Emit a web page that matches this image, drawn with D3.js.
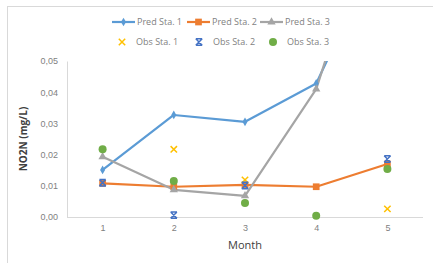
<!DOCTYPE html>
<html>
<head>
<meta charset="utf-8">
<script src="https://cdn.jsdelivr.net/npm/d3@7"></script>
<style>
  body { margin: 0; background: #fff; }
  svg { font-family: "Open Sans", "Liberation Sans", sans-serif; }
</style>
</head>
<body>
<svg id="chart"></svg>
<script>
var months = ["1", "2", "3", "4", "5"];
var yTicks = [0, 0.01, 0.02, 0.03, 0.04, 0.05];

// predicted series (lines)
var predSta1 = [0.0151, 0.0327, 0.0305, 0.0428, 0.091];
var predSta2 = [0.0108, 0.0097, 0.0103, 0.0097, 0.017];
var predSta3 = [0.0193, 0.0087, 0.0068, 0.041, 0.112];

// observed series (markers only), null = no observation
var obsSta1 = [null, 0.0217, 0.0119, null, 0.0026];
var obsSta2 = [0.011, 0.0006, 0.0101, null, 0.0186];
var obsSta3 = [0.0217, 0.0115, 0.0045, 0.0004, 0.0154];

var width = 433, height = 263;
var plotLeft = 67, plotRight = 423, plotTop = 61, plotBottom = 217;

var svg = d3.select("#chart").attr("width", width).attr("height", height);

// chart border
svg.append("rect")
    .attr("x", 7.5).attr("y", 6.5)
    .attr("width", 500).attr("height", 300)
    .attr("fill", "none").attr("stroke", "#d9d9d9");

var x = d3.scalePoint().domain(months).range([plotLeft, plotRight]).padding(0.5);
var y = d3.scaleLinear().domain([0, 0.05]).range([plotBottom, plotTop]);

// y axis
var yAxis = svg.append("g")
    .attr("transform", "translate(" + plotLeft + ",0)")
    .call(d3.axisLeft(y).tickValues(yTicks).tickSize(0).tickPadding(9)
        .tickFormat(function (d) { return d3.format(".2f")(d).replace(".", ","); }));
yAxis.select(".domain").attr("stroke", "#d9d9d9");
yAxis.selectAll("text").attr("fill", "#7f7f7f").style("font-size", "9px");

// x axis
var xAxis = svg.append("g")
    .attr("transform", "translate(0," + plotBottom + ")")
    .call(d3.axisBottom(x).tickSize(0).tickPadding(8));
xAxis.select(".domain").attr("stroke", "#d9d9d9").attr("d", "M" + plotLeft + ",0.5H" + plotRight);
xAxis.selectAll("text").attr("fill", "#7f7f7f").style("font-size", "9px");

// axis titles
svg.append("text")
    .attr("transform", "translate(27," + ((plotTop + plotBottom) / 2) + ") rotate(-90)")
    .attr("text-anchor", "middle")
    .attr("fill", "#404040")
    .style("font-size", "10px").style("font-weight", "bold")
    .text("NO2N (mg/L)");

svg.append("text")
    .attr("x", 245).attr("y", 249)
    .attr("text-anchor", "middle")
    .attr("fill", "#404040")
    .style("font-size", "11px")
    .text("Month");

svg.append("clipPath").attr("id", "plot-clip")
    .append("rect").attr("x", 0).attr("y", plotTop).attr("width", width).attr("height", height - plotTop);

var plot = svg.append("g").attr("clip-path", "url(#plot-clip)");

var line = d3.line()
    .x(function (d, i) { return x(months[i]); })
    .y(function (d) { return y(d); });

var predSeries = [
    { name: "Pred Sta. 1", values: predSta1, color: "#5b9bd5", symbol: d3.symbolDiamond, size: 22 },
    { name: "Pred Sta. 2", values: predSta2, color: "#ed7d31", symbol: d3.symbolSquare, size: 45 },
    { name: "Pred Sta. 3", values: predSta3, color: "#a5a5a5", symbol: d3.symbolTriangle, size: 30 }
];

var obsSeries = [
    { name: "Obs Sta. 1", values: obsSta1, color: "#ffc000", kind: "x" },
    { name: "Obs Sta. 2", values: obsSta2, color: "#4472c4", kind: "star" },
    { name: "Obs Sta. 3", values: obsSta3, color: "#70ad47", kind: "dot" }
];

function drawObsMarker(g, kind, color, cx, cy) {
    if (kind === "dot") {
        g.append("circle").attr("cx", cx).attr("cy", cy).attr("r", 4).attr("fill", color);
    } else {
        var s = 3.2;
        var path = "M" + (cx - s) + "," + (cy - s) + "L" + (cx + s) + "," + (cy + s) +
            "M" + (cx + s) + "," + (cy - s) + "L" + (cx - s) + "," + (cy + s);
        if (kind === "star") {
            path += "M" + (cx - s) + "," + (cy - s) + "H" + (cx + s) +
                "M" + (cx - s) + "," + (cy + s) + "H" + (cx + s);
        }
        g.append("path").attr("d", path).attr("stroke", color)
            .attr("stroke-width", 1.5).attr("fill", "none");
    }
}

predSeries.forEach(function (s) {
    plot.append("path")
        .datum(s.values)
        .attr("d", line)
        .attr("fill", "none")
        .attr("stroke", s.color)
        .attr("stroke-width", 2.2)
        .attr("stroke-linejoin", "round");
});

predSeries.forEach(function (s) {
    plot.selectAll(null)
        .data(s.values)
        .enter()
        .append("path")
        .attr("transform", function (d, i) { return "translate(" + x(months[i]) + "," + y(d) + ")"; })
        .attr("d", d3.symbol().type(s.symbol).size(s.size))
        .attr("fill", s.color);
});

var obsG = svg.append("g");
obsSeries.forEach(function (s) {
    s.values.forEach(function (v, i) {
        if (v === null) return;
        drawObsMarker(obsG, s.kind, s.color, x(months[i]), y(v));
    });
});

// legend
var leg = svg.append("g").style("font-size", "9px");
var row1X = [112, 187, 260];
predSeries.forEach(function (s, i) {
    var g = leg.append("g").attr("transform", "translate(" + row1X[i] + ",22)");
    g.append("line").attr("x1", 0).attr("x2", 23).attr("stroke", s.color).attr("stroke-width", 2.2);
    g.append("path").attr("transform", "translate(11.5,0)")
        .attr("d", d3.symbol().type(s.symbol).size(s.size)).attr("fill", s.color);
    g.append("text").attr("x", 25).attr("dy", "0.35em").attr("fill", "#7f7f7f").text(s.name);
});
var row2X = [122, 199, 273];
obsSeries.forEach(function (s, i) {
    var g = leg.append("g").attr("transform", "translate(" + row2X[i] + ",42)");
    drawObsMarker(g, s.kind, s.color, 0, 0);
    g.append("text").attr("x", 14).attr("dy", "0.35em").attr("fill", "#7f7f7f").text(s.name);
});
</script>
</body>
</html>
